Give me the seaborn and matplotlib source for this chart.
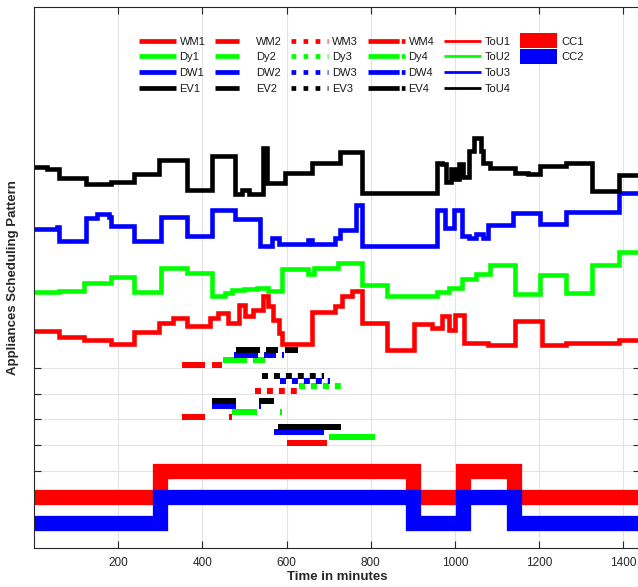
import matplotlib
matplotlib.use("Agg")
import matplotlib.pyplot as plt
import seaborn as sns
import numpy as np
import pandas as pd
from matplotlib.lines import Line2D
from matplotlib.patches import Patch, Rectangle
from matplotlib.legend_handler import HandlerPatch

sns.set_theme(style="white")
plt.rcParams["font.family"] = ["Liberation Sans", "DejaVu Sans"]

# ---------------- data ----------------
# ToU price-like curves (step start minutes and values)
tou1_t = [0, 59, 119, 182, 238, 297, 330, 364, 418, 438, 462, 486, 502, 521, 545, 557, 569, 581, 589,
          660, 716, 732, 755, 779, 839, 902, 946, 969, 985, 1001, 1021, 1080, 1143, 1206, 1264, 1389, 1440]
tou1_v = [8.41, 8.19, 8.09, 7.92, 8.37, 8.75, 8.92, 8.62, 8.93, 9.12, 8.73, 9.45, 9.00, 9.25, 9.77, 9.38,
          8.86, 8.35, 7.92, 9.15, 9.38, 9.77, 9.96, 8.73, 7.70, 8.71, 8.54, 8.99, 8.48, 9.06, 7.96, 7.90,
          8.82, 7.90, 7.95, 8.06, 8.06]

tou2_t = [0, 60, 119, 182, 238, 301, 364, 422, 454, 470, 500, 530, 557, 589, 650, 665, 723, 779, 839,
          957, 985, 1017, 1050, 1084, 1143, 1203, 1264, 1325, 1389, 1440]
tou2_v = [9.92, 9.97, 10.29, 10.51, 9.93, 10.87, 10.68, 9.77, 9.90, 10.00, 10.05, 10.10, 9.96, 10.82,
          10.65, 10.87, 11.05, 10.22, 9.77, 9.95, 10.10, 10.45, 10.65, 10.97, 9.86, 10.60, 9.88, 10.99,
          11.49, 11.49]

tou3_t = [0, 55, 59, 123, 150, 178, 182, 238, 301, 364, 422, 478, 537, 565, 581, 652, 660, 716, 728,
          764, 779, 957, 977, 997, 1017, 1033, 1050, 1068, 1080, 1139, 1203, 1264, 1389, 1440]
tou3_v = [12.38, 12.45, 11.90, 12.80, 12.95, 12.85, 12.49, 11.93, 12.84, 12.12, 13.13, 12.75, 11.71,
          12.03, 11.78, 11.94, 11.78, 12.03, 12.36, 13.30, 11.71, 13.13, 12.42, 13.13, 12.10, 12.03,
          12.20, 12.03, 12.53, 12.99, 12.59, 13.05, 13.79, 13.79]

tou4_t = [0, 30, 59, 123, 182, 238, 297, 364, 422, 478, 494, 510, 545, 553, 597, 660, 716, 728, 779,
          957, 969, 980, 990, 1000, 1010, 1020, 1033, 1045, 1062, 1068, 1084, 1143, 1175, 1203, 1264,
          1325, 1389, 1440]
tou4_v = [14.80, 14.70, 14.36, 14.11, 14.20, 14.53, 15.05, 13.90, 15.20, 13.72, 13.90, 13.72, 15.53,
          14.17, 14.56, 14.95, 14.95, 15.35, 13.77, 14.95, 14.90, 14.20, 14.70, 14.30, 14.90, 14.40,
          15.40, 15.90, 15.40, 14.95, 14.75, 14.55, 14.50, 14.81, 14.94, 13.84, 14.49, 14.49]

# CC curves (on/off pattern)
cc_t = [0, 300, 900, 1020, 1140, 1440]
cc_on = [0, 1, 0, 1, 0, 0]
cc1_base = 2.0
cc2_base = 1.0

# Appliance schedules (start, end minutes) for four cases
wm1 = [(601, 697)]
dy1 = [(700, 810)]
dw1 = [(570, 690)]
ev1 = [(580, 730)]

wm2 = [(352, 407), (464, 471)]
dy2 = [(471, 529), (585, 590)]
dw2 = [(422, 479), (535, 540)]
ev2 = [(422, 479), (535, 571)]

wm3 = [(525, 625)]
dy3 = [(630, 730)]
dw3 = [(585, 704)]
ev3 = [(541, 690)]

wm4 = [(352, 407), (424, 447)]
dy4 = [(450, 507), (521, 549)]
dw4 = [(476, 533), (547, 576), (590, 594)]
ev4 = [(481, 537), (552, 580), (597, 628)]

x_ticks = [200, 400, 600, 800, 1000, 1200, 1400]
y_ticks = [3, 4, 5, 6, 7]

RED, GREEN, BLUE, BLACK = "#ff0000", "#00ff00", "#0000ff", "#000000"

# ---------------- figure ----------------
fig = plt.figure(figsize=(6.38, 5.87), dpi=100)
ax = fig.add_axes([34 / 638, 38.7 / 587, 606 / 638, 541.6 / 587])

# CC curves
cc_df = pd.DataFrame({"t": cc_t,
                      "cc1": [cc1_base + v for v in cc_on],
                      "cc2": [cc2_base + v for v in cc_on]})
sns.lineplot(data=cc_df, x="t", y="cc1", ax=ax, color=RED, lw=11, drawstyle="steps-post",
             estimator=None, sort=False, solid_joinstyle="miter", solid_capstyle="butt")
sns.lineplot(data=cc_df, x="t", y="cc2", ax=ax, color=BLUE, lw=11, drawstyle="steps-post",
             estimator=None, sort=False, solid_joinstyle="miter", solid_capstyle="butt")

# ToU curves
for t, v, c in [(tou1_t, tou1_v, RED), (tou2_t, tou2_v, GREEN),
                (tou3_t, tou3_v, BLUE), (tou4_t, tou4_v, BLACK)]:
    sns.lineplot(x=t, y=v, ax=ax, color=c, lw=3.3, drawstyle="steps-post",
                 estimator=None, sort=False, solid_joinstyle="miter")

# schedule bars
cases = [
    (4, [wm1, dy1, dw1, ev1], "-"),
    (5, [wm2, dy2, dw2, ev2], "-"),
    (6, [wm3, dy3, dw3, ev3], (0, (1, 1))),
    (7, [wm4, dy4, dw4, ev4], "-"),
]
offsets = [0.1, 0.3, 0.5, 0.7]
colors = [RED, GREEN, BLUE, BLACK]
for base, apps, ls in cases:
    for segs, off, c in zip(apps, offsets, colors):
        for s, e in segs:
            ax.plot([s, e], [base + off, base + off], color=c, lw=4.3, linestyle=ls,
                    solid_capstyle="butt", dash_capstyle="butt")

ax.set_xlim(0, 1440)
ax.set_ylim(0, 21)
ax.set_xticks(x_ticks)
ax.set_yticks(y_ticks)
ax.set_yticklabels([])
ax.grid(True, color="#e3e3e3", lw=0.8)
ax.set_axisbelow(True)
ax.tick_params(direction="in", length=5, width=0.8, top=True, right=True, colors="#262626",
               labelsize=8.5, pad=6, left=True, bottom=True)
for sp in ax.spines.values():
    sp.set_color("#262626")
    sp.set_linewidth(0.8)

ax.set_xlabel("Time in minutes", fontsize=9.5, fontweight="bold", color="#262626")
ax.set_ylabel("Appliances Scheduling Pattern", fontsize=9.5, fontweight="bold", color="#262626")
ax.xaxis.set_label_coords(0.5, -0.042)
ax.yaxis.set_label_coords(-0.025, 0.5)

# legend
def L(c, ls="-", lw=3.4):
    return Line2D([], [], color=c, lw=lw, linestyle=ls, dash_capstyle="butt", solid_capstyle="butt")

handles, labels = [], []
styles = ["-", (0, (5.1, 5)), (0, (1, 1.55)), (0, (6.6, 0.45))]
names = ["WM", "Dy", "DW", "EV"]
for k, ls in enumerate(styles):
    for n, c in zip(names, colors):
        handles.append(L(c, ls))
        labels.append(f"{n}{k + 1}")
for i, c in enumerate(colors):
    handles.append(L(c, "-", 2.0))
    labels.append(f"ToU{i + 1}")
handles += [Patch(facecolor=RED, edgecolor="none"), Patch(facecolor=BLUE, edgecolor="none")]
labels += ["CC1", "CC2"]
# two empty slots so that every column holds four rows
handles += [Line2D([], [], alpha=0), Line2D([], [], alpha=0)]
labels += [" ", " "]


def tall_rect(legend, orig_handle, xdescent, ydescent, width, height, fontsize):
    e = 2.8
    return Rectangle((-xdescent, -ydescent - e), width, height + 2 * e)


leg = fig.legend(handles, labels, loc="upper left", bbox_to_anchor=(133 / 638, 1 - 31 / 587),
                 ncol=6, frameon=False, borderpad=0, fontsize=8, handlelength=3.33,
                 handletextpad=0.36, columnspacing=0.85, labelspacing=0.52,
                 handler_map={Patch: HandlerPatch(patch_func=tall_rect)})
for t in leg.get_texts():
    t.set_color("#1a1a1a")

fig.savefig("out.png", dpi=100)
